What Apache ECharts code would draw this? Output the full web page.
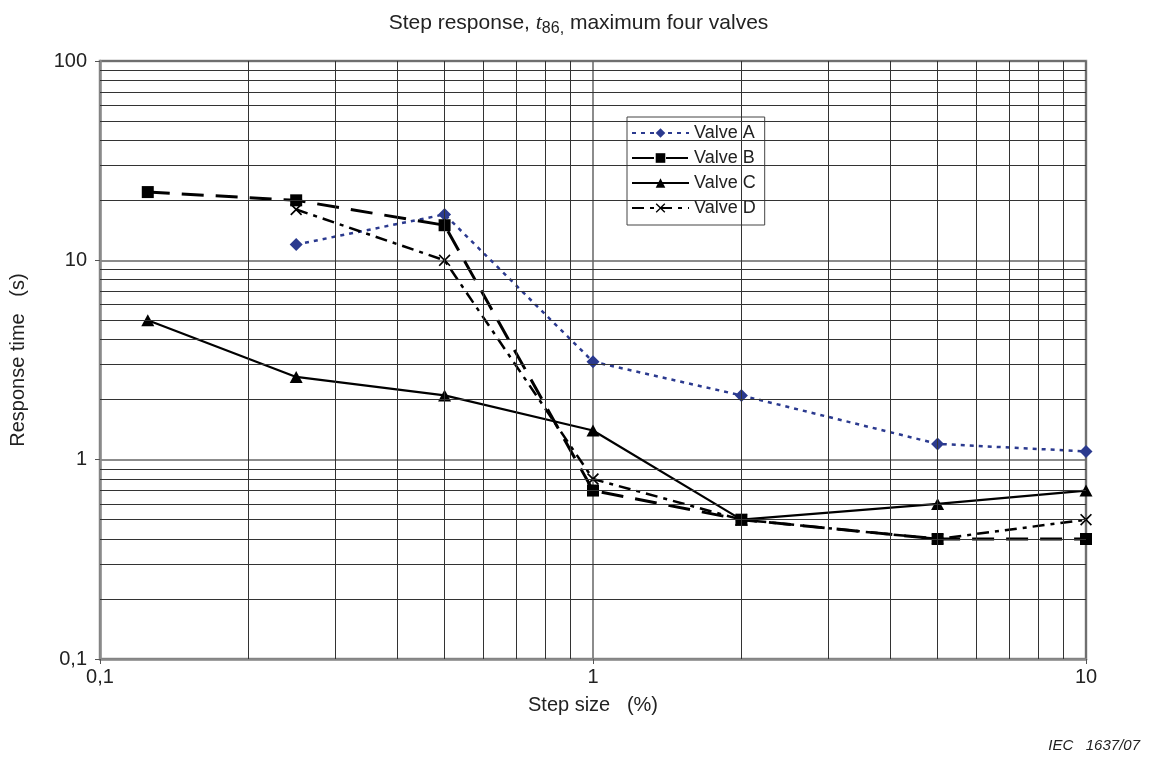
<!DOCTYPE html>
<html>
<head>
<meta charset="utf-8">
<script src="https://cdn.jsdelivr.net/npm/echarts@6/dist/echarts.min.js"></script>
<style>
html,body{margin:0;padding:0;background:#fff;}
#chart{width:1157px;height:763px;}
</style>
</head>
<body>
<div id="chart"></div>
<script>
// Step size (%) categories on log x axis
var stepSizes = [0.125, 0.25, 0.5, 1, 2, 5, 10];
var valveA = [null, 12, 17, 3.1, 2.1, 1.2, 1.1];
var valveB = [22, 20, 15, 0.7, 0.5, 0.4, 0.4];
var valveC = [5, 2.6, 2.1, 1.4, 0.5, 0.6, 0.7];
var valveD = [null, 18, 10, 0.8, 0.5, 0.4, 0.5];
var seriesNames = ['Valve A', 'Valve B', 'Valve C', 'Valve D'];
var yTickLabels = ['0,1', '1', '10', '100'];
var xTickLabels = ['0,1', '1', '10'];
var minorGridY = [0.2,0.3,0.4,0.5,0.6,0.7,0.8,0.9,2,3,4,5,6,7,8,9,20,30,40,50,60,70,80,90];
var minorGridX = [0.2,0.3,0.4,0.5,0.6,0.7,0.8,0.9,2,3,4,5,6,7,8,9];

function pairs(vals){
  var out = [];
  for (var i = 0; i < stepSizes.length; i++) {
    if (vals[i] !== null) out.push([stepSizes[i], vals[i]]);
  }
  return out;
}
function decadeLabel(list, minExp){
  return function(v){
    var idx = Math.round(Math.log10(v)) - minExp;
    return list[idx] !== undefined ? list[idx] : '';
  };
}
var xSymbol = 'path://M0,1 L1,0 L5,4 L9,0 L10,1 L6,5 L10,9 L9,10 L5,6 L1,10 L0,9 L4,5 Z';
var font = 'Liberation Sans, Arial, sans-serif';

var chart = echarts.init(document.getElementById('chart'), null, {renderer:'canvas'});
var gridLineData = minorGridY.map(function(v){return {yAxis: v};})
  .concat(minorGridX.map(function(v){return {xAxis: v};}));

chart.setOption({
  backgroundColor: '#fff',
  animation: false,
  title: {
    left: 'center',
    top: 4,
    text: '{a|Step response, }{i|t}{s|86,}{a| maximum four valves}',
    textStyle: {
      fontWeight: 'normal',
      rich: {
        a: {fontSize: 21, fontWeight: 'normal', fontFamily: font, color: '#222', lineHeight: 28, verticalAlign: 'middle'},
        i: {fontSize: 22, fontWeight: 'normal', fontFamily: 'Liberation Serif, serif', fontStyle: 'italic', color: '#222', lineHeight: 28, verticalAlign: 'middle'},
        s: {fontSize: 16, fontWeight: 'normal', fontFamily: font, color: '#222', lineHeight: 14, verticalAlign: 'bottom'}
      }
    }
  },
  legend: {
    data: seriesNames,
    orient: 'vertical',
    left: 627,
    top: 117,
    padding: [7, 9, 8, 4],
    itemWidth: 57,
    itemHeight: 12,
    itemGap: 7,
    backgroundColor: '#fff',
    borderColor: '#444',
    borderWidth: 1,
    textStyle: {fontSize: 18, fontFamily: font, color: '#222', lineHeight: 18}
  },
  grid: {
    left: 100, right: 71, top: 61, bottom: 104,
    show: true,
    borderColor: '#8a8a8a',
    borderWidth: 2.5,
    backgroundColor: 'transparent'
  },
  xAxis: {
    type: 'log',
    logBase: 10,
    min: 0.1,
    max: 10,
    name: 'Step size   (%)',
    nameLocation: 'middle',
    nameGap: 36,
    nameTextStyle: {fontSize: 20, fontFamily: font, color: '#222'},
    axisLine: {show: true, lineStyle: {color: '#8a8a8a', width: 2.5}},
    axisTick: {show: true, length: 5, lineStyle: {color: '#555'}},
    axisLabel: {margin: 8, fontSize: 20, fontFamily: font, color: '#222', formatter: decadeLabel(xTickLabels, -1)},
    splitLine: {show: true, lineStyle: {color: '#666', width: 1.5}}
  },
  yAxis: {
    type: 'log',
    logBase: 10,
    min: 0.1,
    max: 100,
    name: 'Response time   (s)',
    nameLocation: 'middle',
    nameGap: 72,
    nameRotate: 90,
    nameTextStyle: {fontSize: 20, fontFamily: font, color: '#222'},
    axisLine: {show: true, lineStyle: {color: '#8a8a8a', width: 2.5}},
    axisTick: {show: true, length: 5, lineStyle: {color: '#555'}},
    axisLabel: {margin: 13, fontSize: 20, fontFamily: font, color: '#222', formatter: decadeLabel(yTickLabels, -1)},
    splitLine: {show: true, lineStyle: {color: '#666', width: 1.5}}
  },
  graphic: [{
    type: 'text',
    right: 17,
    bottom: 10,
    style: {text: 'IEC   1637/07', font: 'italic 15px Liberation Sans, Arial, sans-serif', fill: '#222'}
  }],
  series: [
    {
      name: '__grid',
      type: 'line',
      data: [],
      silent: true,
      z: 1,
      markLine: {
        silent: true,
        symbol: ['none', 'none'],
        label: {show: false},
        lineStyle: {type: 'solid', color: '#333', width: 1},
        emphasis: {disabled: true},
        animation: false,
        data: gridLineData
      }
    },
    {
      name: seriesNames[0], type: 'line', data: pairs(valveA), z: 3,
      symbol: 'diamond', symbolSize: 13,
      itemStyle: {color: '#2b3a8f'},
      lineStyle: {color: '#2b3a8f', width: 2.5, type: [4, 5]}
    },
    {
      name: seriesNames[1], type: 'line', data: pairs(valveB), z: 4,
      symbol: 'rect', symbolSize: 12,
      itemStyle: {color: '#000'},
      lineStyle: {color: '#000', width: 3, type: [22, 12]}
    },
    {
      name: seriesNames[2], type: 'line', data: pairs(valveC), z: 3,
      symbol: 'triangle', symbolSize: [13, 12],
      itemStyle: {color: '#000'},
      lineStyle: {color: '#000', width: 2.2, type: 'solid'}
    },
    {
      name: seriesNames[3], type: 'line', data: pairs(valveD), z: 3,
      symbol: xSymbol, symbolSize: 12,
      itemStyle: {color: '#000'},
      lineStyle: {color: '#000', width: 2.5, type: [12, 6, 4, 6]}
    }
  ]
});
</script>
</body>
</html>
